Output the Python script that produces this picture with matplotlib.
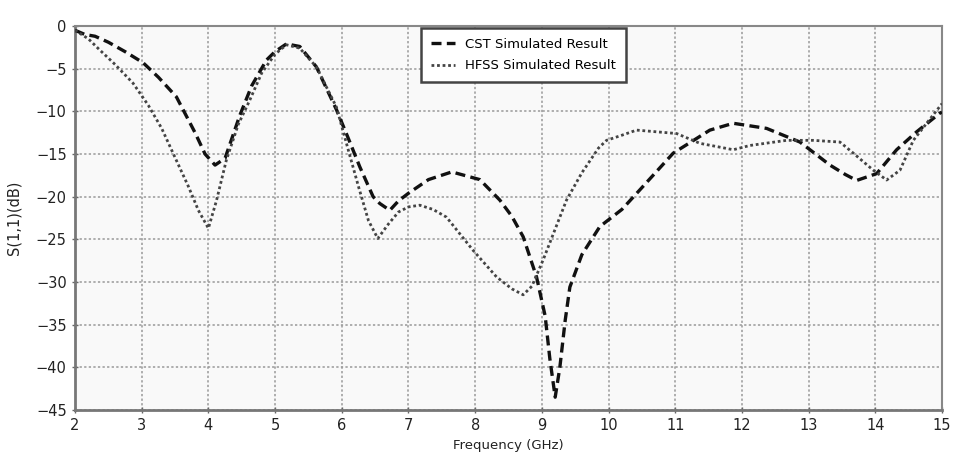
import matplotlib
matplotlib.use("Agg")
from matplotlib import pyplot as plt

# CST simulated S11 (dB) vs frequency (GHz)
cst_f = [2.0, 2.15, 2.3, 2.5, 2.75, 3.02, 3.25, 3.52, 3.62, 3.8, 3.95, 4.1, 4.25,
         4.47, 4.65, 4.87, 5.0, 5.17, 5.37, 5.62, 5.92, 6.1, 6.27, 6.47, 6.57,
         6.72, 6.85, 7.0, 7.3, 7.65, 8.07, 8.37, 8.55, 8.72, 8.92, 9.05, 9.12,
         9.2, 9.27, 9.35, 9.42, 9.6, 9.87, 10.2, 10.47, 10.97, 11.52, 11.87,
         12.37, 12.87, 13.32, 13.55, 13.72, 14.02, 14.32, 14.62, 14.97, 15.0]
cst_db = [-0.5, -1.0, -1.2, -1.9, -3.0, -4.3, -6.0, -8.3, -9.8, -12.5, -15.0, -16.3,
          -15.5, -10.5, -7.0, -4.0, -3.0, -2.1, -2.4, -4.8, -9.8, -13.2, -16.5,
          -20.0, -20.8, -21.6, -20.5, -19.6, -18.0, -17.1, -18.0, -20.4, -22.3,
          -24.7, -29.4, -34.0, -39.0, -43.5, -40.0, -34.5, -30.6, -26.8, -23.5,
          -21.5, -19.2, -14.9, -12.2, -11.4, -12.0, -13.6, -16.3, -17.4, -18.1,
          -17.3, -14.5, -12.4, -10.2, -10.1]

# HFSS simulated S11 (dB) vs frequency (GHz)
hfss_f = [2.0, 2.2, 2.37, 2.6, 2.87, 3.1, 3.3, 3.47, 3.7, 3.85, 4.0, 4.12, 4.27,
          4.45, 4.62, 4.8, 5.0, 5.17, 5.37, 5.62, 5.92, 6.07, 6.25, 6.4, 6.54,
          6.7, 6.85, 7.0, 7.17, 7.37, 7.57, 7.97, 8.32, 8.55, 8.72, 8.85, 9.02,
          9.2, 9.37, 9.6, 9.85, 9.97, 10.2, 10.42, 11.02, 11.37, 11.87, 12.12,
          12.67, 13.07, 13.47, 13.67, 13.97, 14.17, 14.37, 14.57, 14.77, 15.0]
hfss_db = [-0.5, -1.5, -2.8, -4.5, -6.7, -9.3, -12.0, -14.9, -18.8, -21.6, -23.7,
           -20.5, -15.7, -11.5, -8.7, -5.5, -3.3, -2.2, -2.6, -4.8, -9.5, -13.75,
           -18.8, -22.8, -24.9, -23.2, -21.8, -21.2, -21.0, -21.5, -22.4, -26.3,
           -29.4, -30.8, -31.5, -30.5, -27.4, -23.8, -20.4, -17.2, -14.3, -13.4,
           -12.8, -12.2, -12.6, -13.75, -14.5, -14.0, -13.4, -13.4, -13.6, -14.9,
           -16.9, -18.05, -16.9, -13.4, -11.4, -9.1]

x_ticks = list(range(2, 16))
y_ticks = list(range(-45, 1, 5))

plt.rcParams['font.family'] = ['DejaVu Sans']

fig = plt.figure(figsize=(9.55, 4.68), dpi=100)
fig.patch.set_facecolor('white')
ax = fig.add_axes([75 / 955, 1 - 410 / 468, 867 / 955, 384 / 468])
ax.set_facecolor('#f9f9f9')

ax.plot(cst_f, cst_db, color='#111111', linestyle=(0, (3, 1.6)), linewidth=2.4,
        label='CST Simulated Result', zorder=3)
ax.plot(hfss_f, hfss_db, color='#444444', linestyle=(0, (1, 1)), linewidth=2.0,
        label='HFSS Simulated Result', zorder=3)

ax.set_xlim(2, 15)
ax.set_ylim(-45, 0)
ax.set_xticks(x_ticks)
ax.set_yticks(y_ticks)
ax.grid(True, color='#999999', linestyle=(0, (1.5, 1.5)), linewidth=1.1)
ax.tick_params(direction='inout', length=5, width=1, colors='#666666',
               labelcolor='#222222', labelsize=10.5)

for side in ['left', 'bottom']:
    ax.spines[side].set_color('#777777')
    ax.spines[side].set_linewidth(2)
for side in ['top', 'right']:
    ax.spines[side].set_color('#888888')
    ax.spines[side].set_linewidth(1.5)

ax.set_xlabel('Frequency (GHz)', fontsize=9.5, color='#222222', labelpad=4)
ax.set_ylabel('S(1,1)(dB)', fontsize=10.5, color='#222222', labelpad=10)

# legend box sits over the top border, as in the original
leg = ax.legend(loc='upper left', bbox_to_anchor=(421 / 955, 1 - 28 / 468),
                bbox_transform=fig.transFigure, fontsize=9.5, frameon=True,
                fancybox=False, handlelength=1.8, borderpad=0.75,
                labelspacing=0.65, borderaxespad=0)
leg.get_frame().set_edgecolor('#444444')
leg.get_frame().set_linewidth(1.8)
leg.get_frame().set_facecolor('white')
leg.get_frame().set_alpha(1)
leg.set_zorder(10)

plt.savefig('out.png', dpi=100, facecolor='white')
